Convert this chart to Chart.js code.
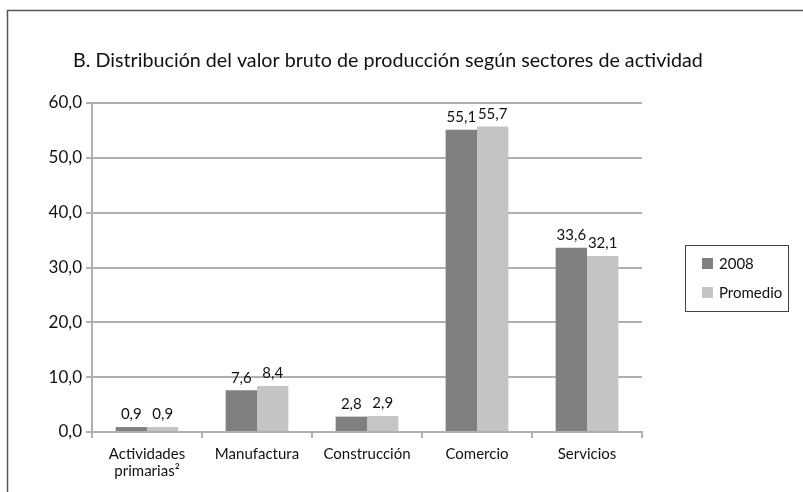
<!DOCTYPE html>
<html>
<head>
<meta charset="utf-8">
<script src="https://cdn.jsdelivr.net/npm/chart.js@4.4.0/dist/chart.umd.min.js"></script>
<style>
  html, body { margin: 0; padding: 0; background: #fff; }
  #wrap { position: relative; width: 803px; height: 492px; }
</style>
</head>
<body>
<div id="wrap"><canvas id="mycanvas" width="803" height="492"></canvas></div>
<script>
var sectores = ['Actividades|primarias\u00B2', 'Manufactura', 'Construcción', 'Comercio', 'Servicios'];
var valores2008 = [0.9, 7.6, 2.8, 55.1, 33.6];
var valoresPromedio = [0.9, 8.4, 2.9, 55.7, 32.1];
var serieNombres = ['2008', 'Promedio'];
var titulo = 'B. Distribución del valor bruto de producción según sectores de actividad';
var FONT = 'Lato, "Open Sans", sans-serif';

function coma(v) { return v.toFixed(1).replace('.', ','); }

// marco, titulo, etiquetas de valores y leyenda con recuadro
var extras = {
	id: 'extras',
	afterDraw: function(chart) {
		var ctx = chart.ctx;
		ctx.save();
		// marco exterior (solo izquierda y arriba se ven)
		ctx.strokeStyle = '#555';
		ctx.lineWidth = 1.5;
		ctx.beginPath();
		ctx.moveTo(7.5, 500);
		ctx.lineTo(7.5, 10.5);
		ctx.lineTo(810, 10.5);
		ctx.stroke();

		// titulo
		ctx.fillStyle = '#111';
		ctx.font = '19.7px ' + FONT;
		ctx.textAlign = 'center';
		ctx.textBaseline = 'alphabetic';
		ctx.fillText(titulo, 388, 67);

		// etiquetas de valores
		ctx.font = '15px ' + FONT;
		ctx.textBaseline = 'bottom';
		chart.data.datasets.forEach(function(ds, i) {
			var meta = chart.getDatasetMeta(i);
			meta.data.forEach(function(bar, j) {
				ctx.fillText(coma(ds.data[j]), bar.x, bar.y - 5);
			});
		});

		// leyenda
		ctx.strokeStyle = '#444';
		ctx.lineWidth = 1;
		ctx.strokeRect(685.5, 245.5, 103, 66);
		ctx.textAlign = 'left';
		ctx.textBaseline = 'middle';
		chart.data.datasets.forEach(function(ds, i) {
			var y = 264 + i * 29;
			ctx.fillStyle = ds.backgroundColor;
			ctx.fillRect(702, y - 6, 11, 11);
			ctx.fillStyle = '#111';
			ctx.fillText(ds.label, 719, y);
		});
		ctx.restore();
	}
};

var ctx = document.getElementById('mycanvas');
var barGraph = new Chart(ctx, {
	type: 'bar',
	data: {
		labels: sectores.map(function(s) { return s.split('|'); }),
		datasets: [
			{ label: serieNombres[0], data: valores2008, backgroundColor: '#808080' },
			{ label: serieNombres[1], data: valoresPromedio, backgroundColor: '#c4c4c4' }
		]
	},
	options: {
		responsive: false,
		animation: false,
		events: [],
		layout: { padding: { top: 103, right: 161, left: 0, bottom: 0 } },
		datasets: { bar: { categoryPercentage: 0.57, barPercentage: 1.0 } },
		plugins: { legend: { display: false }, title: { display: false }, tooltip: { enabled: false } },
		scales: {
			x: {
				afterFit: function(s) { s.height = 60; },
				grid: { display: true, drawOnChartArea: false, drawTicks: true, tickLength: 6, color: '#b0b0b0', lineWidth: 2 },
				border: { color: '#b0b0b0', width: 2 },
				ticks: { color: '#111', font: { family: FONT, size: 15, lineHeight: 1.1 }, padding: 8, maxRotation: 0, autoSkip: false }
			},
			y: {
				min: 0, max: 60,
				afterFit: function(s) { s.width = 92; },
				grid: { color: '#b0b0b0', lineWidth: 2, tickLength: 6 },
				border: { color: '#b0b0b0', width: 2 },
				ticks: { stepSize: 10, color: '#111', padding: 4, font: { family: FONT, size: 17 },
					callback: function(v) { return coma(v); } }
			}
		}
	},
	plugins: [extras]
});
</script>
</body>
</html>
